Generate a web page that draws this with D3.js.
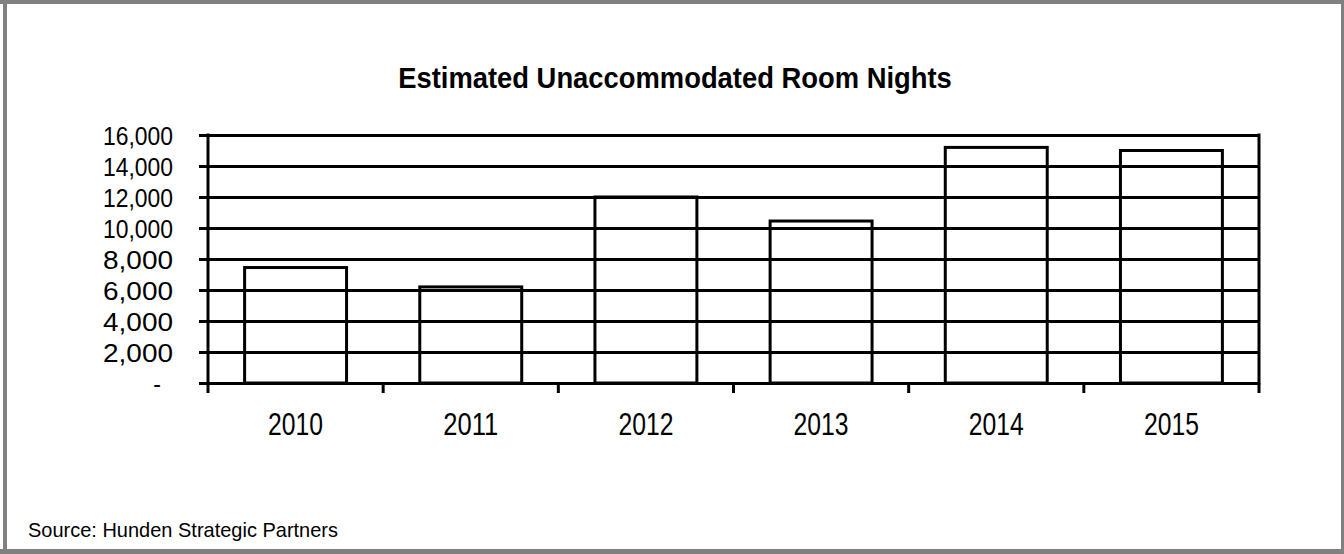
<!DOCTYPE html>
<html>
<head>
<meta charset="utf-8">
<script src="https://cdn.jsdelivr.net/npm/d3@7"></script>
<style>
  html, body { margin: 0; padding: 0; background: #fff; }
  svg { display: block; }
  text { font-family: "Liberation Sans", Arial, sans-serif; fill: #000; }
</style>
</head>
<body>
<svg id="chart" width="1344" height="554"></svg>
<script>
// Estimated unaccommodated room nights by year
const years = ["2010", "2011", "2012", "2013", "2014", "2015"];
const roomNights = [7450, 6200, 12000, 10450, 15200, 15000];
const yTickValues = [0, 2000, 4000, 6000, 8000, 10000, 12000, 14000, 16000];
const yTickLabels = ["-", "2,000", "4,000", "6,000", "8,000", "10,000", "12,000", "14,000", "16,000"];

const titleText = "Estimated Unaccommodated Room Nights";
const sourceText = "Source: Hunden Strategic Partners";

const W = 1344, H = 554;
const plot = { left: 208, right: 1259, top: 135, bottom: 383 };

const svg = d3.select("#chart");

// squeeze a text element horizontally so that it spans the given width
function fitWidth(node, width) {
  const len = node.getComputedTextLength();
  return len > 0 ? width / len : 1;
}

// outer frame
const frame = svg.append("g").attr("fill", "#808080");
frame.append("rect").attr("x", 0).attr("y", 0).attr("width", W).attr("height", 4);
frame.append("rect").attr("x", 3).attr("y", 0).attr("width", 4).attr("height", H);
frame.append("rect").attr("x", W - 3).attr("y", 0).attr("width", 3).attr("height", H);
frame.append("rect").attr("x", 0).attr("y", H - 5).attr("width", W).attr("height", 5);

// scales
const x = d3.scaleBand()
  .domain(years)
  .range([plot.left, plot.right])
  .paddingInner(0.418)
  .paddingOuter(0.209);

const y = d3.scaleLinear()
  .domain([0, 16000])
  .range([plot.bottom, plot.top]);

const step = x.step();

// gridlines and y axis
const yAxis = d3.axisLeft(y)
  .tickValues(yTickValues)
  .tickFormat((d, i) => yTickLabels[i])
  .tickSizeInner(-(plot.right - plot.left))
  .tickSizeOuter(0);

const gy = svg.append("g")
  .attr("transform", `translate(${plot.left},0)`)
  .call(yAxis);
gy.select(".domain").remove();
gy.selectAll(".tick line")
  .attr("x1", -9)
  .attr("stroke", "#000")
  .attr("stroke-width", 3);
gy.selectAll(".tick text")
  .attr("font-size", 25)
  .attr("font-family", "'Liberation Sans', Arial, sans-serif")
  .attr("fill", "#000")
  .attr("dy", "0.36em")
  .attr("x", 0)
  .each(function (d) {
    const s = d === 0 ? 0.92 : fitWidth(this, 70);
    const dx = d === 0 ? -47 : -35;
    d3.select(this).attr("transform", `translate(${dx},0) scale(${s},1)`);
  });

// left axis line and right frame line of the plot
svg.append("line")
  .attr("x1", plot.left).attr("x2", plot.left)
  .attr("y1", plot.top - 1.5).attr("y2", plot.bottom + 1.5)
  .attr("stroke", "#000").attr("stroke-width", 3);
svg.append("line")
  .attr("x1", plot.right).attr("x2", plot.right)
  .attr("y1", plot.top - 1.5).attr("y2", plot.bottom + 1.5)
  .attr("stroke", "#000").attr("stroke-width", 3);

// bars (outline only)
svg.append("g")
  .selectAll("rect")
  .data(years)
  .join("rect")
  .attr("x", d => x(d))
  .attr("width", x.bandwidth())
  .attr("y", (d, i) => y(roomNights[i]))
  .attr("height", (d, i) => y(0) - y(roomNights[i]))
  .attr("fill", "none")
  .attr("stroke", "#000")
  .attr("stroke-width", 3);

// x axis: year labels under each bar
const xAxis = d3.axisBottom(x).tickSize(0).tickSizeOuter(0);
const gx = svg.append("g")
  .attr("transform", `translate(0,${plot.bottom})`)
  .call(xAxis);
gx.select(".domain").remove();
gx.selectAll(".tick text")
  .attr("font-size", 32)
  .attr("font-family", "'Liberation Sans', Arial, sans-serif")
  .attr("fill", "#000")
  .attr("dy", null)
  .attr("y", 0)
  .each(function () {
    const s = fitWidth(this, 55);
    d3.select(this).attr("transform", `translate(0,52) scale(${s},1)`);
  });

// category boundary ticks
const boundaries = d3.range(years.length + 1).map(i => plot.left + i * step);
svg.append("g")
  .selectAll("line")
  .data(boundaries)
  .join("line")
  .attr("x1", d => d).attr("x2", d => d)
  .attr("y1", plot.bottom).attr("y2", plot.bottom + 10)
  .attr("stroke", "#000").attr("stroke-width", 3);

// title
const title = svg.append("text")
  .attr("text-anchor", "middle")
  .attr("font-size", 29)
  .attr("font-weight", "bold")
  .text(titleText);
title.attr("transform", `translate(675,88) scale(${fitWidth(title.node(), 554)},1)`);

// source note
const source = svg.append("text")
  .attr("font-size", 21)
  .text(sourceText);
source.attr("transform", `translate(28,537) scale(${fitWidth(source.node(), 310)},1)`);
</script>
</body>
</html>
